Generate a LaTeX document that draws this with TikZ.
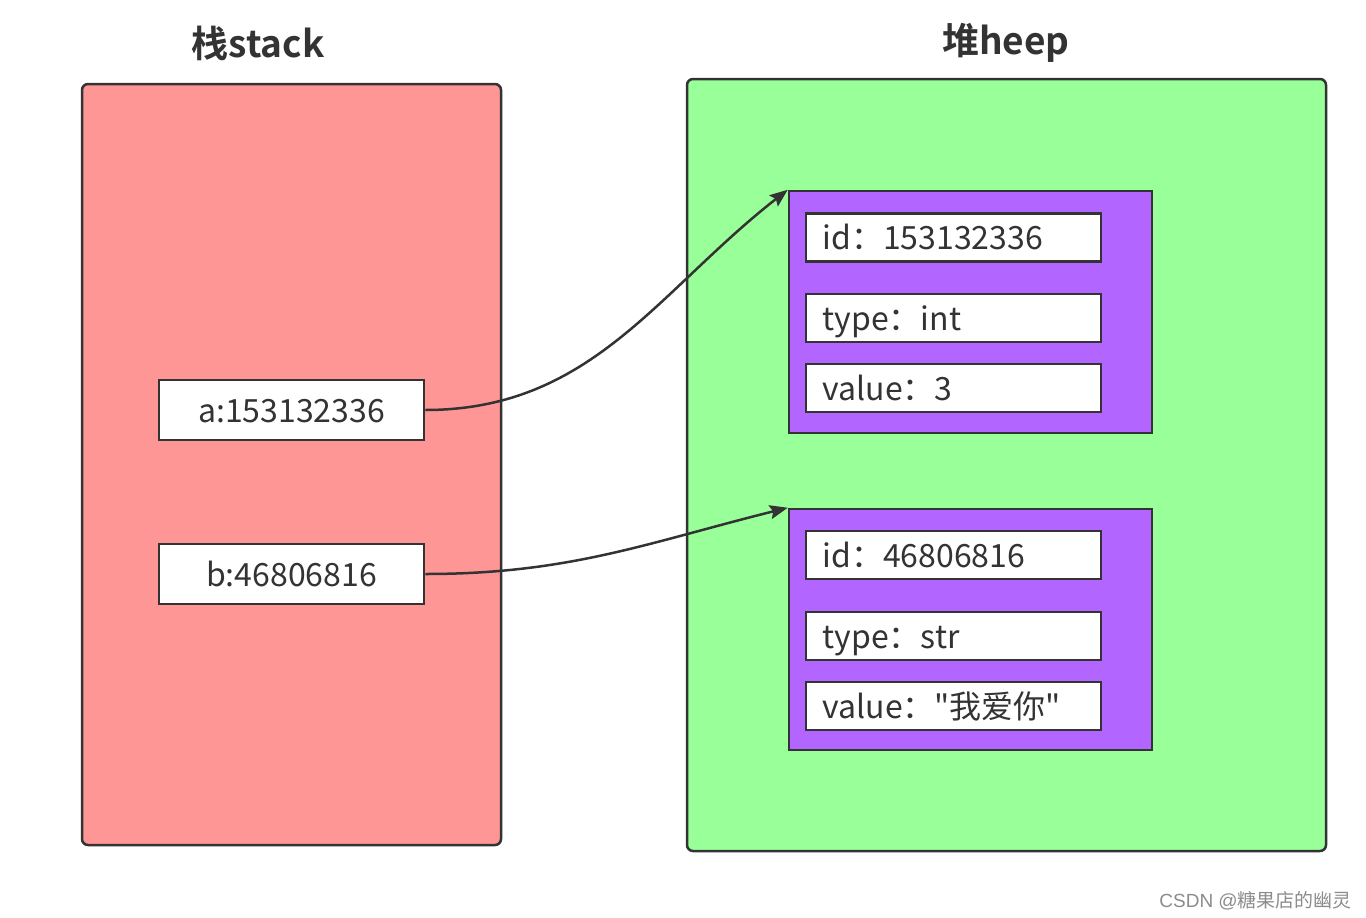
\documentclass[tikz,border=0pt]{standalone}
\usepackage{fontspec}
\setmainfont{Noto Sans CJK SC}[BoldFont={Noto Sans CJK SC Bold}, Ligatures=TeXOff]
\newfontfamily\wmfont{Liberation Sans}
\usetikzlibrary{arrows.meta}
\definecolor{stackc}{HTML}{FF9696}
\definecolor{heapc}{HTML}{99FF99}
\definecolor{objc}{HTML}{B266FF}
\definecolor{edgec}{HTML}{333333}
\tikzset{
  region/.style={draw=edgec, line width=2.5pt, rounded corners=6pt},
  objbox/.style={draw=edgec, line width=2.5pt, fill=objc},
  varbox/.style={draw=edgec, line width=2.5pt, fill=white, minimum width=265pt, minimum height=60pt, inner sep=0pt, text height=30pt, text depth=6pt, font=\fontsize{32}{38}\selectfont, text=edgec},
  fieldbox/.style={draw=edgec, line width=2.5pt, fill=white, minimum height=48pt, text width=262pt, inner xsep=16.5pt, inner ysep=0pt, text height=30pt, text depth=6pt, align=left, font=\fontsize{32}{38}\selectfont, text=edgec},
  title/.style={font=\fontsize{37}{42}\selectfont\bfseries, text=edgec},
  ptr/.style={draw=edgec, line width=2.5pt, -{Stealth[length=18pt,width=14pt,inset=3pt]}},
}
\begin{document}
\begin{tikzpicture}[x=1pt,y=-1pt]
\useasboundingbox (0,0) rectangle (1366,918);
% regions
\draw[region, fill=stackc] (82,84) rectangle (501,845);
\draw[region, fill=heapc] (687,79) rectangle (1326,851);
\node[title] (ts) at (258,43) {栈stack};
\node[title] (th) at (1006,43) {堆heep};
% stack vars
\node[varbox] (a) at (291.5,410) {a:153132336};
\node[varbox] (b) at (291.5,574) {b:46806816};
% heap objects
\node[objbox, minimum width=363pt, minimum height=242pt, inner sep=0pt] (o1) at (970.5,312) {};
\node[objbox, minimum width=363pt, minimum height=241pt, inner sep=0pt] (o2) at (970.5,629.5) {};
\node[fieldbox] (id1) at (953.5,237.5) {id：153132336};
\node[fieldbox] (ty1) at (953.5,318) {type：int};
\node[fieldbox] (va1) at (953.5,388) {value：3};
\node[fieldbox] (id2) at (953.5,555) {id：46806816};
\node[fieldbox] (ty2) at (953.5,636) {type：str};
\node[fieldbox] (va2) at (953.5,706) {value："我爱你"};
% pointers
\draw[ptr] (a.east) to[out=0, in=218] (o1.north west);
\draw[ptr] (b.east) to[out=0, in=194] (o2.north west);
% watermark
\node[anchor=south east, inner sep=0pt, text=black!45, font=\fontsize{19}{22}\selectfont] (wm) at (1352,910) {{\wmfont CSDN @}糖果店的幽灵};
\end{tikzpicture}
\end{document}
